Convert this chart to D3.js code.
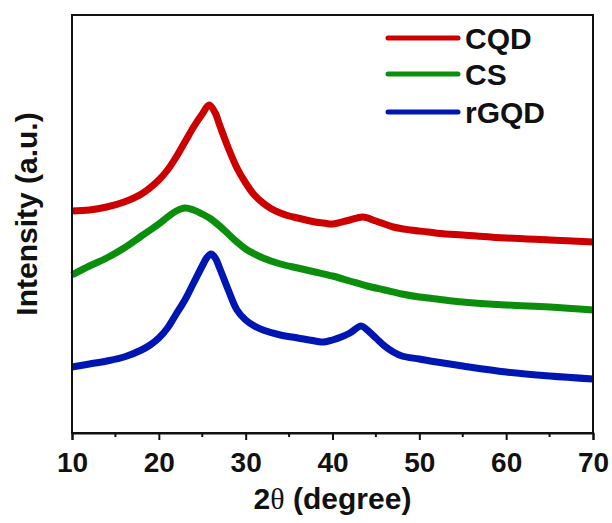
<!DOCTYPE html>
<html>
<head>
<meta charset="utf-8">
<script src="https://cdn.jsdelivr.net/npm/d3@7"></script>
<style>
  body { margin: 0; background: #fff; }
  text { font-family: "Liberation Sans", Arial, sans-serif; font-weight: bold; }
</style>
</head>
<body>
<div id="chart"></div>
<script>
// XRD patterns (intensity in arbitrary units)
var seriesNames = ["CQD", "CS", "rGQD"];
var seriesColors = ["#cc0000", "#0b8e0b", "#0016b2"];

var cqdAngle = [10, 12, 14, 16, 18, 20, 21, 22, 23, 24, 25, 25.8, 26.5, 27, 28, 29, 30, 31, 32, 33, 34, 35, 36, 38, 39, 40, 42, 43.5, 45, 47, 49, 51, 53, 55, 60, 65, 70];
var cqdValue = [222, 223, 226, 231, 239, 253, 263, 276, 291, 306, 319, 328, 320, 308, 285, 265, 250, 238, 230, 224, 220, 217, 215, 211, 210, 209, 213, 216, 212, 206, 203, 201, 199, 198, 195, 193, 191];

var csAngle = [10, 12, 14, 16, 18, 20, 21, 22, 23, 24, 25, 26, 27, 28, 29, 30, 32, 34, 36, 38, 40, 42, 44, 46, 48, 50, 52, 55, 60, 65, 70];
var csValue = [158, 167, 175, 185, 197, 209, 216, 222, 225, 223, 219, 214, 207, 199, 191, 184, 175, 169, 165, 161, 157, 152, 147, 143, 139, 136, 134, 131, 128, 126, 123];

var rgqdAngle = [10, 12, 14, 16, 18, 19, 20, 21, 22, 23, 24, 25, 25.5, 26, 26.5, 27, 28, 29, 30, 31, 32, 34, 36, 38, 39, 40, 41, 42, 43.3, 44, 45, 46, 47, 48, 50, 52, 55, 60, 65, 70];
var rgqdValue = [66, 69, 72, 76, 83, 88, 95, 105, 119, 133, 150, 167, 175, 179, 175, 165, 143, 123, 113, 107, 103, 98, 95, 92, 91, 93, 96, 100, 107, 103, 95, 87, 81, 77, 74, 71, 67, 61, 57, 54];

var xTicks = [10, 20, 30, 40, 50, 60, 70];
var xMinorTicks = [15, 25, 35, 45, 55, 65];

var width = 612, height = 523;
var margin = {top: 15, right: 19, bottom: 90, left: 72};
var plotW = width - margin.left - margin.right,
    plotH = height - margin.top - margin.bottom;

var svg = d3.select("#chart").append("svg")
    .attr("width", width)
    .attr("height", height);

var g = svg.append("g")
    .attr("transform", "translate(" + margin.left + "," + margin.top + ")");

var x = d3.scaleLinear().domain([10, 70]).range([0, plotW]);
var y = d3.scaleLinear().domain([0, 418]).range([plotH, 0]);

function zipSeries(a, v) {
    return a.map(function (d, i) { return {x: d, y: v[i]}; });
}
var series = [
    zipSeries(cqdAngle, cqdValue),
    zipSeries(csAngle, csValue),
    zipSeries(rgqdAngle, rgqdValue)
];

var line = d3.line()
    .x(function (d) { return x(d.x); })
    .y(function (d) { return y(d.y); })
    .curve(d3.curveCatmullRom.alpha(0.5));

g.selectAll("path.trace")
    .data(series)
    .enter().append("path")
    .attr("class", "trace")
    .attr("d", line)
    .attr("fill", "none")
    .attr("stroke", function (d, i) { return seriesColors[i]; })
    .attr("stroke-width", 7)
    .attr("stroke-linejoin", "round");

// frame
g.append("rect")
    .attr("width", plotW)
    .attr("height", plotH)
    .attr("fill", "none")
    .attr("stroke", "#111")
    .attr("stroke-width", 2);

// x axis
var xAxis = g.append("g")
    .attr("transform", "translate(0," + plotH + ")")
    .call(d3.axisBottom(x).tickValues(xTicks).tickSize(7).tickPadding(12).tickFormat(d3.format("d")));
xAxis.select(".domain").attr("stroke", "#111").attr("stroke-width", 2);
xAxis.selectAll(".tick line").attr("stroke", "#111").attr("stroke-width", 2);
xAxis.selectAll(".tick text")
    .attr("fill", "#111")
    .style("font-size", "28px")
    .style("font-family", "'Liberation Sans', Arial, sans-serif")
    .style("font-weight", "bold");

g.append("g")
    .attr("transform", "translate(0," + plotH + ")")
    .selectAll("line")
    .data(xMinorTicks)
    .enter().append("line")
    .attr("x1", function (d) { return x(d); })
    .attr("x2", function (d) { return x(d); })
    .attr("y1", 0)
    .attr("y2", 4)
    .attr("stroke", "#111")
    .attr("stroke-width", 2);

// axis titles
var xTitle = svg.append("text")
    .attr("x", margin.left + plotW / 2)
    .attr("y", 509)
    .attr("text-anchor", "middle")
    .style("font-size", "30px")
    .attr("fill", "#111");
xTitle.append("tspan").text("2");
xTitle.append("tspan")
    .style("font-family", "'Liberation Serif', 'Times New Roman', serif")
    .style("font-weight", "normal")
    .text("θ");
xTitle.append("tspan").text(" (degree)");

svg.append("text")
    .attr("transform", "translate(37," + (margin.top + 199) + ") rotate(-90)")
    .attr("text-anchor", "middle")
    .style("font-size", "30px")
    .attr("fill", "#111")
    .text("Intensity (a.u.)");

// legend
var legendY = [38, 74, 112];
var legend = svg.selectAll("g.legend")
    .data(seriesNames)
    .enter().append("g")
    .attr("class", "legend")
    .attr("transform", function (d, i) { return "translate(388," + legendY[i] + ")"; });

legend.append("line")
    .attr("x1", 0)
    .attr("x2", 70)
    .attr("stroke", function (d, i) { return seriesColors[i]; })
    .attr("stroke-width", 5)
    .attr("stroke-linecap", "round");

legend.append("text")
    .attr("x", 77)
    .attr("y", 10.5)
    .style("font-size", "30px")
    .attr("fill", "#111")
    .text(function (d) { return d; });
</script>
</body>
</html>
